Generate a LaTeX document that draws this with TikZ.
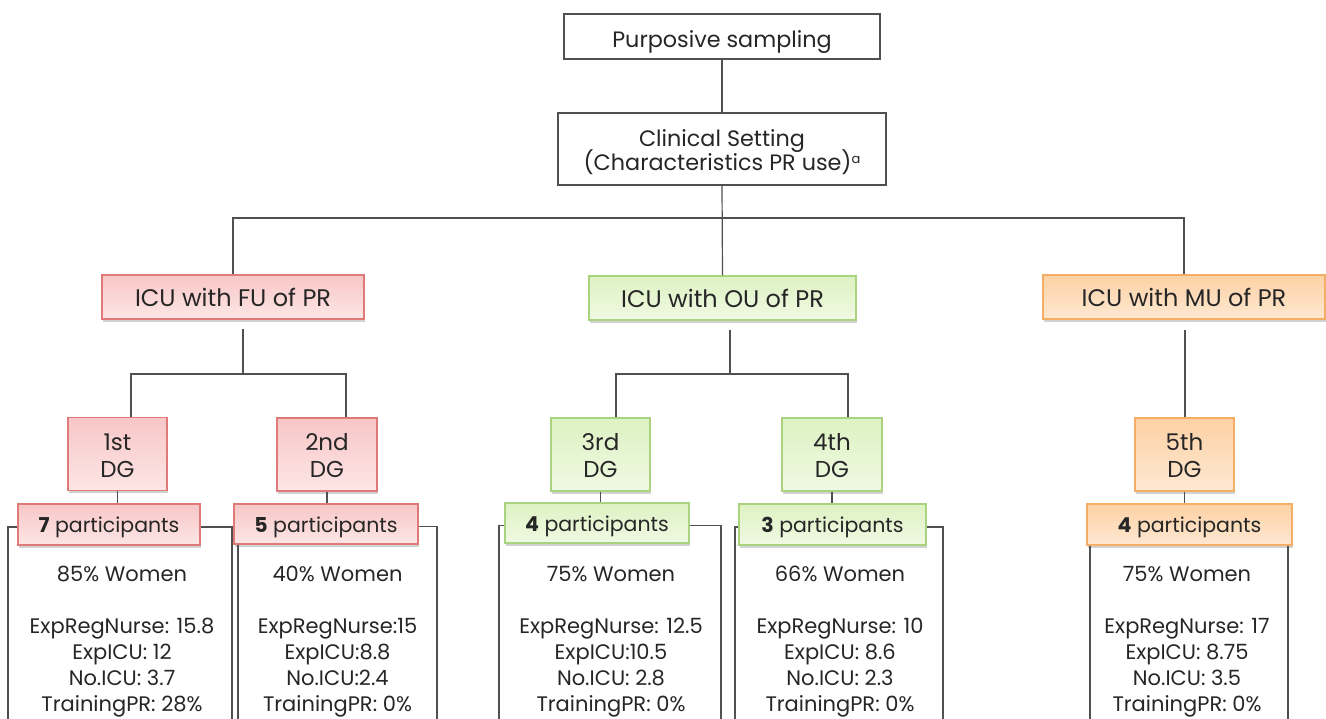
\documentclass[tikz,border=0pt]{standalone}
\usepackage{fontspec}
\setmainfont{Poppins}
\usetikzlibrary{shadows,calc}
\definecolor{linegray}{HTML}{505050}
\definecolor{txt}{HTML}{262626}
\definecolor{redline}{HTML}{E07A78}
\definecolor{redtop}{HTML}{F8C6C6}
\definecolor{redbot}{HTML}{FDE6E6}
\definecolor{grnline}{HTML}{A9D37E}
\definecolor{grntop}{HTML}{DDF2C2}
\definecolor{grnbot}{HTML}{F0F9E3}
\definecolor{orgline}{HTML}{F5AE66}
\definecolor{orgtop}{HTML}{FDD1A4}
\definecolor{orgbot}{HTML}{FEE8D2}
\tikzset{
  conn/.style={draw=linegray, line width=1.2pt},
  plainbox/.style={draw=linegray, line width=1.2pt, fill=white, text=txt, align=center, inner sep=0pt},
  colbox/.style={line width=1.1pt, text=txt, align=center, inner sep=0pt,
    drop shadow={shadow xshift=0.5pt, shadow yshift=-2.5pt, opacity=0.25, fill=black!70}},
  redbox/.style={colbox, draw=redline, top color=redtop, bottom color=redbot},
  grnbox/.style={colbox, draw=grnline, top color=grntop, bottom color=grnbot},
  orgbox/.style={colbox, draw=orgline, top color=orgtop, bottom color=orgbot},
  headfont/.style={font=\fontsize{24}{28}\selectfont},
  topfont/.style={font=\fontsize{22.3}{26}\selectfont},
  dgfont/.style={font=\fontsize{23}{27}\selectfont},
  partfont/.style={font=\fontsize{20.5}{25}\selectfont, text height=16pt, text depth=0pt},
  datafont/.style={font=\fontsize{21}{26}\selectfont},
  datatext/.style={datafont, text=txt, align=center, inner sep=0pt, anchor=north},
}
\begin{document}
\begin{tikzpicture}[x=1pt,y=-1pt]
\useasboundingbox (0,0) rectangle (1326,718);
\clip (0,0) rectangle (1326,718);

% top of the hierarchy
\node[plainbox, topfont, text height=21pt, text depth=0pt, minimum width=316pt, minimum height=45pt] (ps) at (722,36.5) {Purposive sampling};
\node[plainbox, topfont, minimum width=328pt, minimum height=72pt] (cs) at (722,149)
  {\rule{0pt}{23pt}Clinical Setting\\[-4pt](Characteristics PR use)\raisebox{0.6ex}{\fontsize{13}{13}\selectfont a}};

% ICU types
\node[redbox, headfont, minimum width=262pt, minimum height=44pt] (fu) at (233,297) {ICU with FU of PR};
\node[grnbox, headfont, minimum width=267pt, minimum height=44pt] (ou) at (722.5,298) {ICU with OU of PR};
\node[orgbox, headfont, minimum width=282pt, minimum height=44pt] (mu) at (1184,297) {ICU with MU of PR};

% discussion groups
\node[redbox, dgfont, minimum width=99pt, minimum height=73pt] (d1) at (117.5,454) {\rule{0pt}{20pt}1st\\DG};
\node[redbox, dgfont, minimum width=100pt, minimum height=73pt] (d2) at (327,454.5) {\rule{0pt}{20pt}2nd\\DG};
\node[grnbox, dgfont, minimum width=99pt, minimum height=73pt] (d3) at (600.5,454.5) {\rule{0pt}{20pt}3rd\\DG};
\node[grnbox, dgfont, minimum width=100pt, minimum height=73pt] (d4) at (832,454.5) {\rule{0pt}{20pt}4th\\DG};
\node[orgbox, dgfont, minimum width=99pt, minimum height=73pt] (d5) at (1184.5,454.5) {\rule{0pt}{20pt}5th\\DG};

% participants
\node[redbox, partfont, minimum width=182pt, minimum height=41pt] (p1) at (109,524.5) {\textbf{7} participants};
\node[redbox, partfont, minimum width=184pt, minimum height=40pt] (p2) at (326,524) {\textbf{5} participants};
\node[grnbox, partfont, minimum width=184pt, minimum height=40pt] (p3) at (597,523) {\textbf{4} participants};
\node[grnbox, partfont, minimum width=187pt, minimum height=41pt] (p4) at (832.5,524.5) {\textbf{3} participants};
\node[orgbox, partfont, minimum width=205pt, minimum height=41pt] (p5) at (1189.5,524.5) {\textbf{4} participants};

% group characteristics
\node[datatext] (t1) at (122,566) {85\% Women\\[26pt]ExpRegNurse: 15.8\\ExpICU: 12\\No.ICU: 3.7\\TrainingPR: 28\%};
\node[datatext] (t2) at (337.5,566) {40\% Women\\[26pt]ExpRegNurse:15\\ExpICU:8.8\\No.ICU:2.4\\TrainingPR: 0\%};
\node[datatext] (t3) at (611,566) {75\% Women\\[26pt]ExpRegNurse: 12.5\\ExpICU:10.5\\No.ICU: 2.8\\TrainingPR: 0\%};
\node[datatext] (t4) at (840,566) {66\% Women\\[26pt]ExpRegNurse: 10\\ExpICU: 8.6\\No.ICU: 2.3\\TrainingPR: 0\%};
\node[datatext] (t5) at (1187,566) {75\% Women\\[26pt]ExpRegNurse: 17\\ExpICU: 8.75\\No.ICU: 3.5\\TrainingPR: 0\%};

% connectors, top levels
\coordinate (j0) at (722,218);
\draw[conn] (ps.south) -- (cs.north);
\draw[conn] (cs.south) -- (ou.north);
\draw[conn] (fu.north) -- (fu.north |- j0) -- (mu.north |- j0) -- (mu.north);

% FU branch
\coordinate (fuj) at (243,374);
\coordinate (fl) at (131,374);
\coordinate (fr) at (346,374);
\draw[conn] (fuj |- fu.south) ++(0,9) -- (fuj);
\draw[conn] (fl |- d1.north) -- (fl) -- (fr) -- (fr |- d2.north);

% OU branch
\coordinate (ouj) at (730,374);
\coordinate (ol) at (616,374);
\coordinate (or) at (848,374);
\draw[conn] (ouj |- ou.south) ++(0,9) -- (ouj);
\draw[conn] (ol |- d3.north) -- (ol) -- (or) -- (or |- d4.north);

% MU branch
\coordinate (muj) at (1185,330);
\draw[conn] (muj) -- (muj |- d5.north);

% group boxes below the participant counts
\draw[conn] (d1.south) -- (d1.south |- p1.north);
\draw[conn] (d2.south) -- (d2.south |- p2.north);
\draw[conn] (d3.south) -- (d3.south |- p3.north);
\draw[conn] (d4.south) -- (d4.south |- p4.north);
\draw[conn] (d5.south) -- (d5.south |- p5.north);

\coordinate (b1l) at (8,722);   \coordinate (b1r) at (232,722);
\coordinate (b2l) at (238,722); \coordinate (b2r) at (437,722);
\coordinate (b3l) at (499,722); \coordinate (b3r) at (721,722);
\coordinate (b4l) at (735,722); \coordinate (b4r) at (943,722);
\coordinate (b5l) at (1090,722);\coordinate (b5r) at (1288,722);

\draw[conn] ([yshift=-2.5pt]p1.west) -| (b1l);
\draw[conn] ([yshift=-2.5pt]p1.east) -| (b1r);
\draw[conn] (b2l |- p2.south) -- (b2l);
\draw[conn] ([yshift=-2.5pt]p2.east) -| (b2r);
\draw[conn] ([yshift=-2.5pt]p3.west) -| (b3l);
\draw[conn] ([yshift=-2.5pt]p3.east) -| (b3r);
\draw[conn] ([yshift=-2.5pt]p4.west) -| (b4l);
\draw[conn] ([yshift=-2.5pt]p4.east) -| (b4r);
\draw[conn] (b5l |- p5.south) -- (b5l);
\draw[conn] (b5r |- p5.south) -- (b5r);
\end{tikzpicture}
\end{document}
